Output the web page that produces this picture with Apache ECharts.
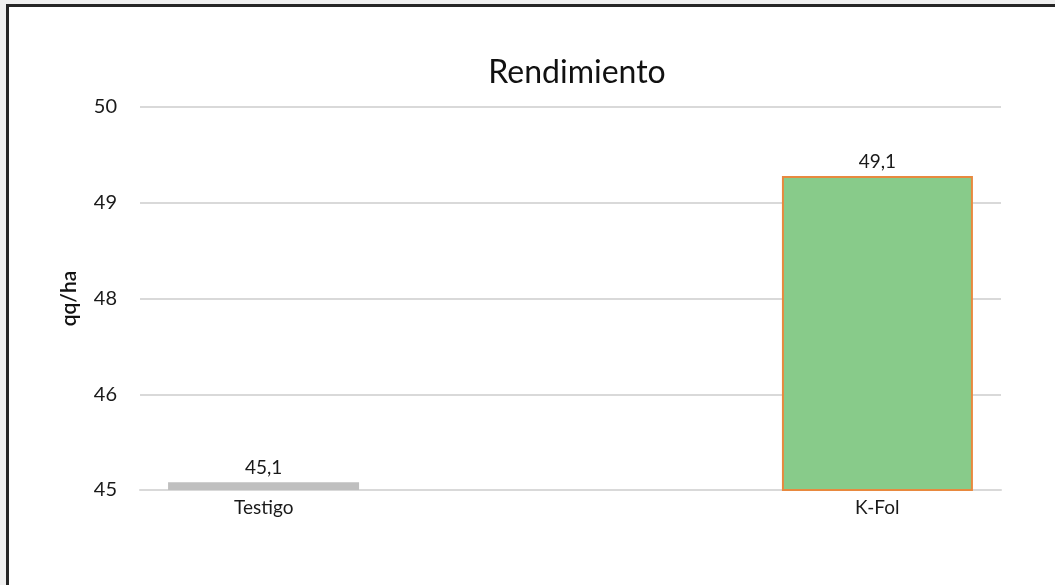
<!DOCTYPE html>
<html>
<head>
<meta charset="utf-8">
<script src="https://cdn.jsdelivr.net/npm/echarts@6/dist/echarts.min.js"></script>
<style>
  body { margin: 0; background: #f0f0f0; }
  #frame { position: absolute; left: 6px; top: 4px; right: 0; bottom: 0; border-top: 3px solid #262626; border-left: 3px solid #262626; background: #fff; }
  #chart { position: absolute; left: 0; top: 0; width: 1055px; height: 585px; }
</style>
</head>
<body>
<div id="frame"></div>
<div id="chart"></div>
<script>
const categories = ['Testigo', 'K-Fol']
const testigoValues = [45.1, '-']
const kfolValues = ['-', 49.1]
const yMin = 45
const yMax = 50
const yStep = 1.25

const chart = echarts.init(document.getElementById('chart'))

const font = 'Lato, "Open Sans", sans-serif'
const labelFmt = p => String(p.value).replace('.', ',')

chart.setOption({
  backgroundColor: 'transparent',
  animation: false,
  textStyle: {fontFamily: font},
  title: {
    text: 'Rendimiento',
    left: 572, top: 52,
    textAlign: 'center',
    textStyle: {fontSize: 32, fontWeight: 'normal', color: '#111', fontFamily: font}
  },
  grid: {left: 140, right: 54, top: 107, bottom: 95},
  xAxis: {
    type: 'category',
    data: categories,
    axisLine: {lineStyle: {color: '#d9d9d9', width: 2}},
    axisTick: {show: false},
    axisLabel: {
      margin: 8,
      color: '#1a1a1a',
      fontSize: 19,
      formatter: (v, i) => i === 0 ? '{l|' + v + '}' : '{r|' + v + '}',
      rich: {
        l: {padding: [0, 183, 0, 0], fontSize: 19, color: '#1a1a1a', fontFamily: font},
        r: {padding: [0, 0, 0, 183], fontSize: 19, color: '#1a1a1a', fontFamily: font}
      }
    }
  },
  yAxis: {
    type: 'value',
    min: yMin, max: yMax, interval: yStep,
    name: 'qq/ha',
    nameLocation: 'middle',
    nameGap: 60,
    nameTextStyle: {fontSize: 21, color: '#111', fontWeight: 600},
    axisLine: {show: false},
    axisTick: {show: false},
    axisLabel: {
      margin: 23, color: '#1a1a1a', fontSize: 20,
      formatter: v => String(Math.round(v))
    },
    splitLine: {lineStyle: {color: '#d9d9d9', width: 2}}
  },
  series: [
    {
      name: 'Testigo',
      type: 'bar',
      data: testigoValues,
      barWidth: 191,
      barGap: '-4%',
      itemStyle: {color: '#bfbfbf'},
      label: {show: true, position: 'top', distance: 5, fontSize: 19, color: '#1a1a1a', formatter: labelFmt}
    },
    {
      name: 'K-Fol',
      type: 'bar',
      data: kfolValues,
      barWidth: 191,
      itemStyle: {color: '#88cb8a', borderColor: '#e8893f', borderWidth: 2},
      label: {show: true, position: 'top', distance: 5, fontSize: 19, color: '#1a1a1a', formatter: labelFmt}
    }
  ]
})
</script>
</body>
</html>
